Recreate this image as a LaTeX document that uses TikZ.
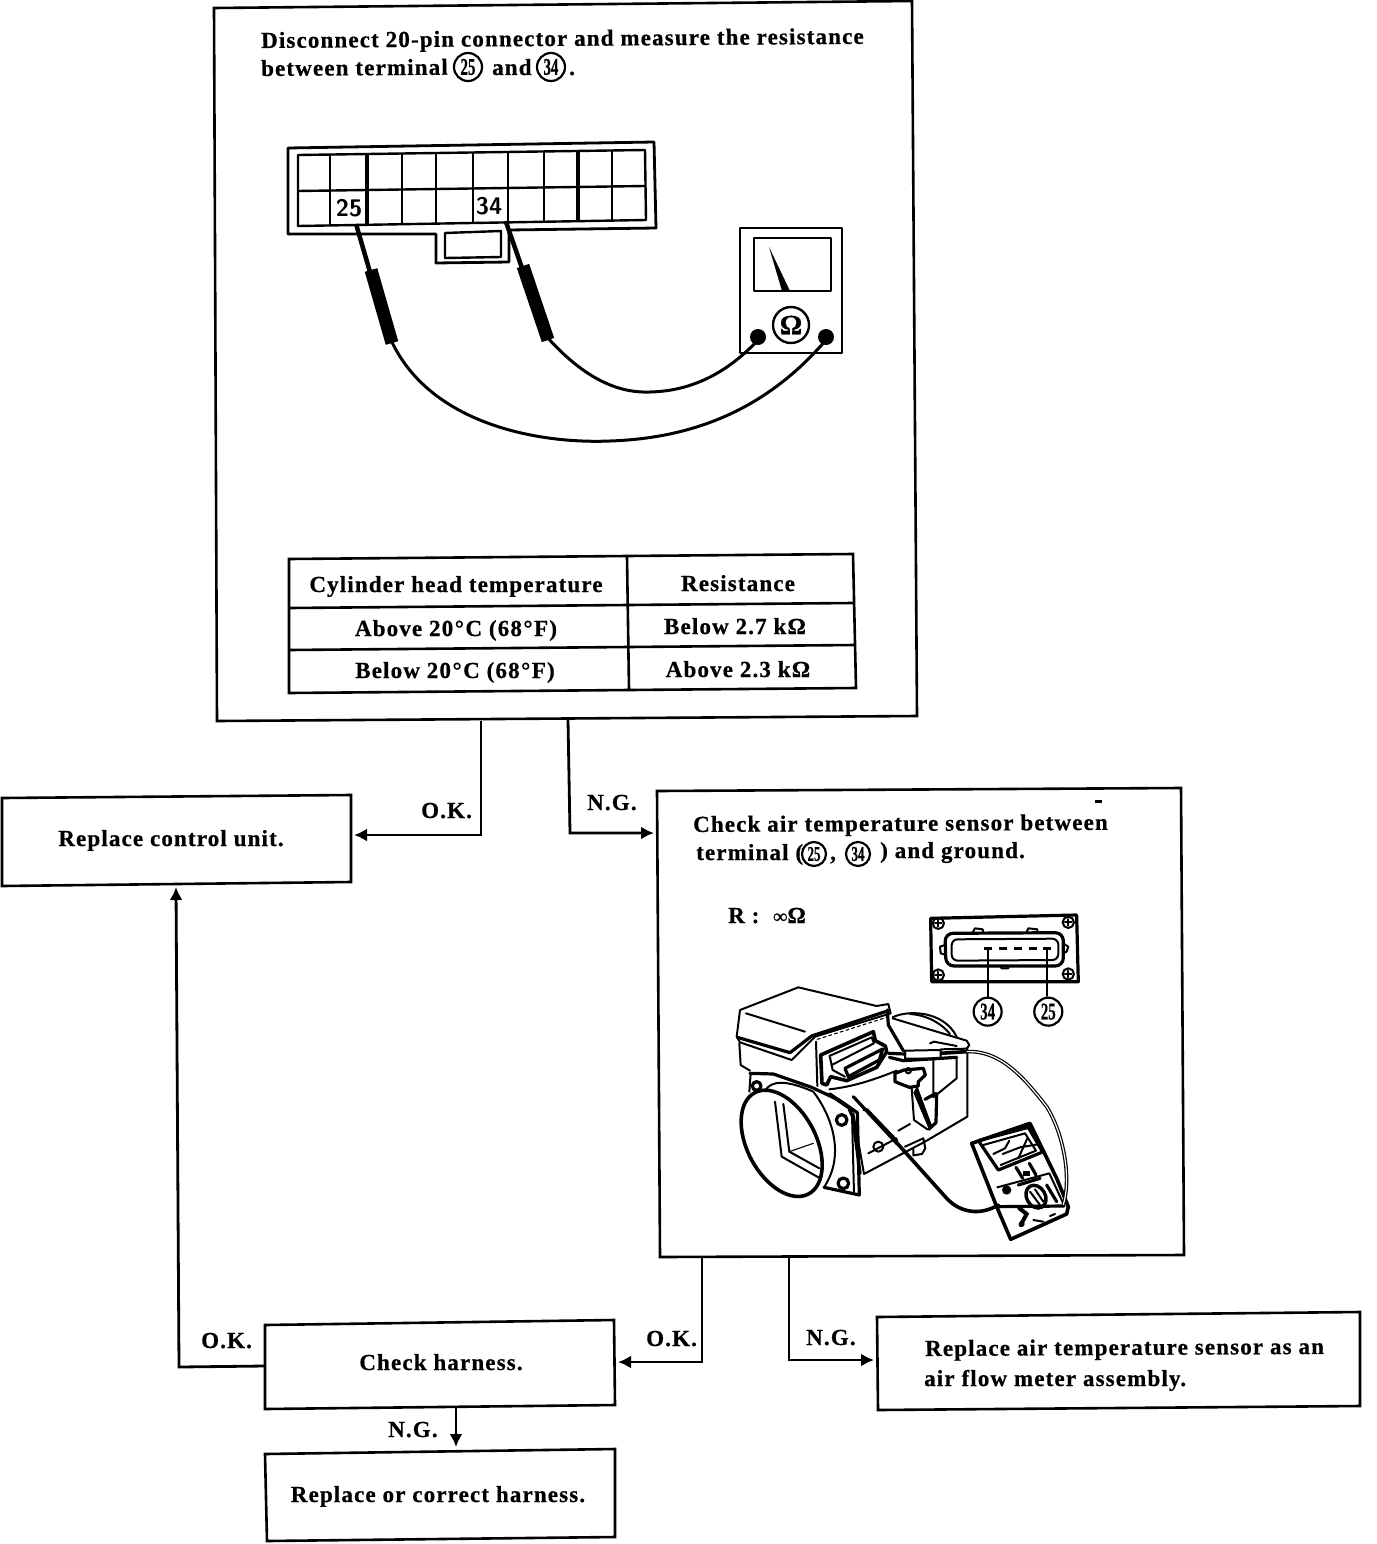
\documentclass[tikz,border=0pt]{standalone}
\usepackage{fontspec}
\setmainfont{Liberation Serif}[BoldFeatures={FakeBold=0.6}]
\usetikzlibrary{arrows.meta}
\newfontfamily\lab[LetterSpace=5,BoldFeatures={FakeBold=0.6}]{Liberation Serif}
\tikzset{
  box/.style={line width=2.6pt,line join=miter},
  conn/.style={line width=2.8pt,-{Latex[length=13pt,width=13pt]}},
  txt/.style={inner sep=0pt,anchor=base west,font=\lab\bfseries\fontsize{23}{26}\selectfont},
  ctxt/.style={inner sep=0pt,anchor=base,font=\lab\bfseries\fontsize{23}{26}\selectfont},
  numc/.style={circle,draw,line width=2.2pt,minimum size=28pt,inner sep=0pt,font=\bfseries\fontsize{24}{24}\selectfont},
  nums/.style={numc,minimum size=24pt,font=\bfseries\fontsize{21}{21}\selectfont},
  art/.style={line width=2pt,line join=round,line cap=round},
  fine/.style={line width=1.1pt,line join=round,line cap=round},
  heavy/.style={line width=3.2pt,line join=round,line cap=round},
  mark3/.style={x=0.3333pt,y=-0.3333pt}
}
\newcommand{\nar}[1]{\scalebox{0.62}[1]{#1}}
\newcommand{\dg}{\hspace{1.5pt}\textdegree\hspace{1.5pt}}
\begin{document}
\begin{tikzpicture}[x=1pt,y=-1pt]
\useasboundingbox (0,0) rectangle (1376,1544);
% boxes
\draw[box] (214,8)--(912,1)--(917,716)--(217,721)--cycle;
\draw[box] (2,798)--(351,795)--(351,882)--(2,886)--cycle;
\draw[box] (657,791)--(1181,788)--(1184,1255)--(660,1257)--cycle;
\draw[box] (265,1325)--(614,1320)--(615,1405)--(265,1409)--cycle;
\draw[box] (877,1317)--(1360,1312)--(1360,1406)--(878,1410)--cycle;
\draw[box] (265,1454)--(615,1449)--(615,1537)--(267,1541)--cycle;
% connector anchors
\coordinate (mainA) at (481,721);
\coordinate (mainB) at (568,720);
\coordinate (ctrl) at (354,835);
\coordinate (ctrlB) at (176,887);
\coordinate (airL) at (654,833);
\coordinate (airA) at (702,1258);
\coordinate (airB) at (789,1257);
\coordinate (harR) at (618,1362);
\coordinate (harL) at (265,1366);
\coordinate (harB) at (456,1408);
\coordinate (corr) at (456,1447);
\coordinate (repl) at (874,1360);
\draw[conn] (mainA)--(481,835)--(ctrl);
\draw[conn] (mainB)--(570,833)--(airL);
\draw[conn] (airA)--(702,1362)--(harR);
\draw[conn] (airB)--(789,1360)--(repl);
\draw[conn] (harL)--(179,1367)--(ctrlB);
\draw[conn] (harB)--(corr);
% connector labels
\node[txt] (lokA) at (421,818) {O.K.};
\node[txt] (lngA) at (587,810) {N.G.};
\node[txt] (lokB) at (201,1348) {O.K.};
\node[txt] (lokC) at (646,1346) {O.K.};
\node[txt] (lngB) at (806,1345) {N.G.};
\node[txt] (lngC) at (388,1437) {N.G.};
% box texts
\node[txt,rotate=0.4] (t1a) at (261,48) {Disconnect 20-pin connector and measure the resistance};
\node[txt,rotate=0.4] (t1b) at (261,76) {between terminal};
\node[numc] (c25a) at (468,67) {\nar{25}};
\node[txt] (t1c) at (492,75) {and};
\node[numc] (c34a) at (551,67) {\nar{34}};
\node[txt] (t1d) at (569,75) {.};
\node[ctxt] (rcu) at (171,846) {Replace control unit.};
\node[txt,rotate=0.3] (t2a) at (693,832) {Check air temperature sensor between};
\node[txt] (t2b) at (696,860) {terminal (};
\node[nums] (c25b) at (814,854) {\nar{25}};
\node[txt] (t2c) at (830,860) {,};
\node[nums] (c34b) at (858,854) {\nar{34}};
\node[txt] (t2d) at (880,858) {) and ground.};
\node[txt] (rinf) at (728,923) {R :\ \ {\fontsize{20}{20}\selectfont ∞}Ω};
\node[ctxt] (chk) at (441,1370) {Check harness.};
\node[ctxt] (rch) at (438,1502) {Replace or correct harness.};
\node[txt,rotate=0.3] (t3a) at (925,1356) {Replace air temperature sensor as an};
\node[txt] (t3b) at (924,1386) {air flow meter assembly.};
% table
\draw[box] (289,559)--(853,554)--(856,688)--(289,693)--cycle;
\draw[box] (289,608)--(853,603);
\draw[box] (289,650)--(855,645);
\draw[box] (627,557)--(629,690);
\node[ctxt] (h1) at (456,592) {Cylinder head temperature};
\node[ctxt] (h2) at (738,591) {Resistance};
\node[ctxt] (a1) at (456,636) {Above 20\dg C (68\dg F)};
\node[ctxt] (a2) at (735,634) {Below 2.7 kΩ};
\node[ctxt] (b1) at (455,678) {Below 20\dg C (68\dg F)};
\node[ctxt] (b2) at (738,677) {Above 2.3 kΩ};
% 20-pin connector
\draw[art,line width=2.8pt] (288,148)--(654,142)--(656,228)--(509,230)--(509,262)--(436,263)--(436,234)--(288,234)--cycle;
\draw[art,line width=2.4pt] (298,155)--(645,150)--(646,220)--(298,226)--cycle;
\draw[art,line width=2.4pt] (445,233)--(501,231)--(501,257)--(445,258)--cycle;
\draw[art,line width=2.4pt] (298,191)--(645,186);
\foreach \xa/\ya/\yb/\wd in {330/154.5/225.5/2.6,367/154/225/3.2,402/153.5/224.5/2.4,436/153/224/2.2,473/152.5/223.5/2.4,508/152/223/2.4,544/151.5/222/2.4,578/151/221.5/3.4,612/150.5/221/2.4}
  \draw[line width=\wd pt] (\xa,\ya) -- (\xa,\yb);
\node[inner sep=0pt,font=\bfseries\sffamily\fontsize{24}{24}\selectfont] (n25) at (349,208) {25};
\node[inner sep=0pt,font=\bfseries\sffamily\fontsize{24}{24}\selectfont] (n34) at (489,206) {34};
% ohmmeter
\draw[art,line width=2.8pt] (740,228)--(842,228)--(842,353)--(740,353)--cycle;
\draw[art,line width=2.6pt] (754,238)--(831,238)--(831,291)--(754,291)--cycle;
\fill (769,247)--(790,291)--(782,291)--cycle;
\node[circle,draw,line width=2.4pt,minimum size=36pt,inner sep=0pt,font=\bfseries\fontsize{28}{28}\selectfont] (ohm) at (791,325) {Ω};
\fill (758,337) circle[radius=8];
\fill (826,337) circle[radius=8];
% probes
\draw[line width=4.5pt] (356,224)--(370,272);
\draw[line width=13pt] (371,270)--(392,343);
\draw[line width=4.5pt] (506,222)--(522,268);
\draw[line width=13pt] (523,266)--(548,340);
\draw[line width=3pt] (391,340) .. controls (430,425) and (540,444) .. (610,441) .. controls (700,438) and (770,405) .. (826,340);
\draw[line width=3pt] (547,337) .. controls (590,385) and (625,393) .. (650,392) .. controls (695,391) and (730,370) .. (758,340);
% small connector view of the sensor
\begin{scope}[shift={(700,890)},mark3]
 \draw[heavy] (692,85) -- (1130,75) -- (1135,275) -- (695,275) -- cycle;
 \draw[heavy,rounded corners=8pt] (735,130)--(1090,128)--(1090,228)--(738,228)--cycle;
 \draw[art,rounded corners=6pt] (755,148)--(1075,146)--(1075,210)--(755,212)--cycle;
 \draw[art] (715,100) circle[radius=17] (1105,97) circle[radius=17] (715,255) circle[radius=17] (1105,252) circle[radius=17];
 \draw[art] (705,100)--(725,100) (715,90)--(715,110) (1095,97)--(1115,97) (1105,87)--(1105,107) (705,255)--(725,255) (715,245)--(715,265) (1095,252)--(1115,252) (1105,242)--(1105,262);
 \draw[art] (735,165)--(720,170)--(722,190)--(738,195) (1090,160)--(1105,170)--(1100,185)--(1090,190) (818,128)--(825,115)--(848,118)--(850,128) (980,126)--(985,115)--(1012,118)--(1012,127) (900,228)--(905,235)--(925,235)--(925,228);
 \foreach \pn in {865,908,955,1000,1042}
   \fill (\pn-12,170) rectangle (\pn+12,181);
 \draw[art] (865,180)--(865,322) (1042,180)--(1042,318);
 \node[numc] (c34c) at (863,365) {\nar{34}};
 \node[numc] (c25c) at (1045,365) {\nar{25}};
\end{scope}
% air flow meter: cover and intake
\begin{scope}[shift={(730,980)},mark3]
 \draw[art] (20,170)--(30,90)--(205,22)--(440,78)--(475,72)--(482,100)--(255,170)--(185,240)--(30,187)--cycle;
 \draw[art] (48,100)--(225,155);
 \draw[heavy] (22,172)--(180,218)--(245,168)--(475,92);
 \draw[fine,dashed] (262,178)--(470,112);
 \draw[art] (28,190)--(32,255)--(60,272);
 \draw[art] (258,185)--(262,318);
 \draw[heavy] (60,280)--(130,282)--(245,322)--(330,362)--(382,398)--(388,645)--(282,622);
 \draw[art] (62,280)--(58,335);
 \draw[art] (366,402)--(372,640);
 \draw[art] (290,340)--(370,395) (300,340)--(365,385);
 \draw[art] (105,332) .. controls (125,300) and (170,300) .. (250,335) .. controls (300,400) and (350,520) .. (282,622);
 \draw[line width=3.6pt] (155,490) ellipse[x radius=103,y radius=172,rotate=28];
 \draw[art] (135,365)--(155,530)--(265,592);
 \draw[art] (160,372)--(178,515)--(268,565);
 \draw[fine] (178,515)--(250,490);
 \draw[heavy] (80,318) circle[radius=13];
 \draw[heavy] (335,420) circle[radius=16];
 \draw[heavy] (340,610) circle[radius=16];
 % plug
 \draw[line width=3.6pt,line join=round] (272,225)--(430,155)--(436,182)--(466,198)--(470,215)--(440,262)--(350,302)--(302,290)--(290,315)--(276,310)--cycle;
 \draw[art] (298,228)--(425,172)--(432,190)--(305,255);
 \draw[heavy] (345,265)--(458,207)--(448,240)--(355,290)--cycle;
 \draw[art] (300,232)--(308,270)--(345,290);
 \draw[art] (298,328) .. controls (370,320) and (430,300) .. (500,272);
\end{scope}
% air flow meter: right body, bracket, probe
\begin{scope}[shift={(810,1010)},mark3]
 \draw[art] (248,22) .. controls (290,0) and (400,0) .. (440,80);
 \draw[art] (300,12) .. controls (350,15) and (395,40) .. (420,72);
 \draw[heavy] (232,0)--(235,45)--(280,122);
 \draw[art] (248,25)--(470,92)--(478,105)--(470,116);
 \draw[art] (360,100)--(372,95)--(440,108);
 \draw[art] (285,122)--(392,120)--(392,146)--(285,146)--cycle;
 \draw[heavy] (235,130)--(285,132);
 \draw[art] (392,118)--(470,116);
 \draw[heavy] (238,142)--(280,152)--(440,142);
 \draw[art] (472,116)--(472,320)--(345,395)--(162,492)--(130,310);
 \draw[heavy] (118,298)--(128,320)--(150,490);
 \draw[art] (370,150)--(370,262)--(440,205)--(440,145);
 \draw[heavy] (345,268)--(378,250);
 % bracket
 \draw[heavy] (255,190)--(282,180)--(340,175)--(346,195)--(325,215)--(325,228)--(298,232)--(255,215)--cycle;
 \draw[art] (295,182) circle[radius=8];
 \draw[art] (305,235)--(312,330)--(352,358);
 \fill (322,228)--(368,352)--(355,354)--(310,248)--cycle;
 \draw[heavy] (380,255)--(378,338)--(356,358);
 \draw[art] (265,362)--(300,342);
 \draw[art] (175,430)--(260,385);
 \draw[art] (205,410) circle[radius=15];
 \draw[art] (285,410)--(340,385)--(346,415)--(336,432)--(310,436)--(310,418);
 % probe
 \draw[heavy] (130,260)--(262,402);
 \draw[art] (172,298)--(262,392);
 \draw[art] (160,300)--(172,298);
\end{scope}
% air flow meter: tester
\begin{scope}[shift={(960,1110)},mark3]
 \draw[line width=3.6pt,line join=round] (35,100)--(210,40)--(290,205)--(325,290)--(320,312)--(152,388)--(110,290)--cycle;
 \draw[art] (48,95)--(205,50);
 \draw[heavy] (55,92)--(205,52)--(248,126)--(115,180)--cycle;
 \draw[art] (70,105)--(195,70)--(228,122)--(122,165);
 \draw[art] (100,132)--(135,115)--(148,92) (128,132)--(180,112)--(240,102) (175,145)--(202,85);
 \draw[heavy] (168,172)--(188,205) (208,160)--(228,195);
 \fill (190,182) rectangle (210,198);
 \draw[art] (112,232)--(268,190)--(312,285);
 \draw[heavy] (115,290)--(312,288);
 \draw[line width=3.4pt] (228,260) ellipse[x radius=28,y radius=36,rotate=30];
 \draw[art] (210,245)--(240,285) (225,238)--(250,275);
 \fill (140,240) circle[radius=14];
 \draw[heavy] (175,225)--(240,205) (260,225)--(290,275);
 \draw[line width=4pt,line cap=round] (178,295)--(200,312)--(182,345);
 \fill (185,342) circle[radius=9];
 \draw[art] (220,330)--(250,335) (270,318)--(285,312);
\end{scope}
% test leads
\begin{scope}[shift={(700,890)},mark3]
 \draw[line width=3.6pt,line cap=round] (590,758)--(740,925) .. controls (780,968) and (840,978) .. (895,945);
 \draw[line width=3.6pt] (722,490)--(800,485) .. controls (900,480) and (970,560) .. (1040,650) .. controls (1090,730) and (1115,860) .. (1090,945);
 \draw[line width=1.2pt,white] (800,485) .. controls (900,480) and (970,560) .. (1040,650) .. controls (1090,730) and (1115,860) .. (1090,945);
\end{scope}
\fill (1095,800) rectangle (1102,803);
\end{tikzpicture}
\end{document}
